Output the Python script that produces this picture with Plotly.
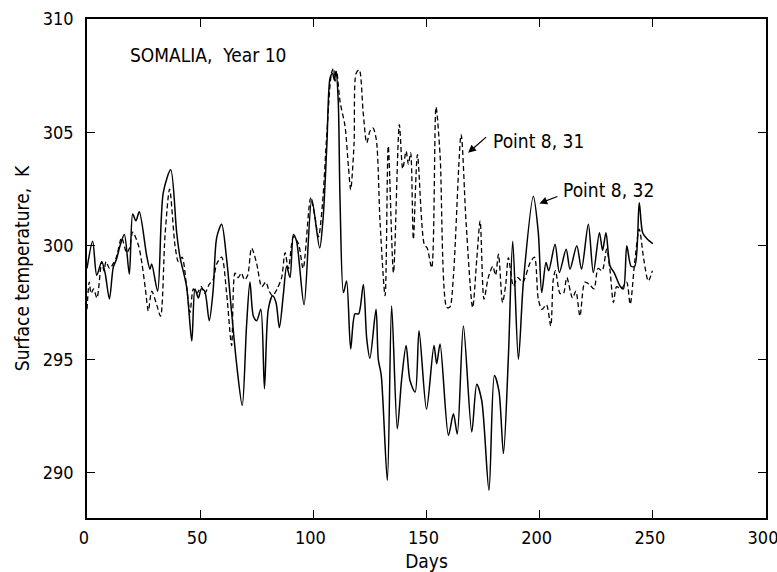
import plotly.graph_objects as go

# Point 8, 32 (solid)
days_32 = [0, 2.5, 4.3, 6.5, 8, 9.9, 11.6, 13, 14.6, 16.5, 18.7, 20.2, 21.6, 23.1, 26.4, 27.8, 28.6, 31.2,
           33.7, 37, 39.6, 41, 44, 46.3, 47.7, 49.2, 50.5, 52, 54, 55.7, 57.3, 59.5, 61.7, 63.9, 66.2, 68.6,
           70.5, 72, 73.5, 75, 76.8, 78.4, 80.1, 82, 83.5, 85, 86.8, 88.2, 89.7, 91.2, 92.6, 95.9, 99.3, 102.8,
           104.3, 106, 107.4, 108.5, 109.3, 110, 111, 111.8, 113.3, 114.7, 116.5, 118.4, 120, 122.1, 123.6,
           125, 127.7, 128.7, 130, 132.7, 134.6, 137.1, 139, 141, 142.7, 145, 146.7, 150, 153.3, 154.5, 156,
           159.7, 161.9, 163.6, 166.3, 170, 172.2, 174.4, 177.6, 180, 182, 184, 186.2, 188.1, 190.6, 192.8,
           197.2, 199.4, 200.9, 202.8, 204, 206.8, 208.7, 211.7, 213.4, 216.4, 218.5, 221.5, 223.7, 226.4,
           227.8, 229.3, 231.1, 233, 235.5, 237, 238.5, 240.4, 242, 244, 245.5, 247.5, 250]
temp_32 = [299.0, 300.2, 298.7, 299.3, 298.8, 297.65, 299.05, 299.4, 300.0, 300.5, 298.75, 301.4, 301.1, 301.5,
           299.55, 298.97, 299.2, 298.0, 302.35, 303.35, 300.6, 299.55, 298.2, 295.8, 298.1, 297.7, 298.1,
           298.0, 296.7, 298.0, 300.36, 300.95, 299.4, 297.06, 294.7, 292.96, 296.5, 298.4, 296.9, 296.7,
           297.2, 293.7, 297.2, 297.8, 297.5, 296.4, 297.9, 299.1, 298.6, 300.5, 300.2, 297.4, 302.05, 299.9,
           301.2, 304.5, 307.4, 307.6, 307.3, 307.7, 306.4, 302.0, 297.94, 298.45, 295.45, 297.0, 297.0,
           298.3, 295.9, 295.04, 297.2, 295.0, 294.3, 289.66, 297.35, 291.93, 294.1, 295.6, 294.06, 293.55,
           296.26, 292.8, 295.6, 294.8, 295.67, 291.64, 292.6, 291.7, 296.47, 291.79, 293.9, 293.18, 289.22,
           294.28, 293.6, 290.84, 295.16, 300.2, 295.0, 298.4, 302.19, 300.58, 297.94, 299.26, 298.9, 300.07,
           298.82, 299.85, 298.97, 300.0, 298.97, 300.95, 298.82, 300.58, 299.8, 300.58, 299.11, 298.8,
           298.23, 298.1, 300.0, 299.1, 299.1, 301.9, 300.58, 300.3, 300.1]

# Point 8, 31 (dashed)
days_31 = [0, 1, 1.8, 2.9, 4.4, 6.5, 7.5, 8.4, 10, 11.5, 13, 15.3, 17.5, 18.8, 20.2, 22.8, 24.3, 25.8, 27.1,
           28.6, 30.8, 32.5, 34.5, 36.5, 38.9, 40.4, 42, 44, 45.5, 47, 48.5, 50.5, 52, 54, 55.7, 57.3, 59.5,
           61.7, 63.9, 65.4, 66.8, 68.2, 69.6, 71, 72.7, 74.9, 77.2, 79, 80.5, 82, 84, 86, 87.5, 89, 91.2, 93.4,
           95.5, 98.8, 100.5, 102.3, 104, 106, 108, 108.9, 109.6, 110.3, 111.8, 114, 115.5, 116.5, 118, 118.9,
           120.3, 122, 123.6, 125, 126.3, 127.8, 129.5, 131.7, 133.1, 135.4, 138, 139.5, 141, 142, 143, 144.2,
           146, 149, 150.3, 152.3, 154.2, 156, 159, 160.3, 161.9, 165.3, 167.5, 170.4, 172.2, 173.7, 175.4,
           177.3, 179.3, 180.5, 181.8, 183.6, 185, 186.2, 188.4, 190.3, 192.5, 195.8, 197.7, 199.4, 201, 203,
           204.9, 206, 207, 209, 210.5, 212, 214.5, 216, 217.8, 220, 222, 224, 225.8, 227.6, 229.6, 231, 232.6,
           234, 236, 238.4, 240, 242, 244, 246, 248, 249.8]
temp_31 = [297.2, 298.4, 297.9, 298.1, 297.7, 299.3, 298.9, 299.3, 299.0, 299.2, 299.5, 300.36, 299.7, 299.9,
           300.6, 300.0, 299.2, 298.1, 297.13, 298.0, 297.4, 296.9, 300.5, 302.5, 300.0, 299.3, 299.5, 298.2,
           297.06, 298.1, 297.9, 298.2, 297.9, 298.3, 298.5, 299.2, 299.5, 297.9, 295.6, 298.8, 298.6, 298.8,
           298.5, 298.7, 299.9, 299.25, 298.2, 298.4, 298.0, 297.8, 298.1, 298.6, 299.7, 299.0, 300.4, 300.1,
           299.0, 302.1, 301.4, 300.4, 301.8, 305.0, 307.6, 307.83, 307.25, 307.7, 306.36, 305.27, 303.5,
           302.48, 304.5, 307.6, 307.76, 305.9, 304.54, 305.05, 305.2, 304.7, 301.0, 297.8, 304.4, 298.82,
           305.34, 303.4, 304.17, 303.6, 304.1, 300.29, 304.02, 300.07, 299.9, 299.04, 306.12, 304.0, 297.28,
           297.3, 298.67, 304.9, 301.0, 297.28, 299.4, 301.1, 297.65, 298.6, 299.1, 298.7, 299.63, 297.5, 298.3,
           299.48, 298.23, 298.6, 298.4, 299.26, 299.5, 297.65, 297.2, 297.4, 296.47, 298.5, 298.9, 297.9,
           297.9, 298.6, 297.7, 298.0, 296.9, 298.4, 298.3, 298.1, 299.0, 298.9, 299.85, 299.0, 297.5, 298.2,
           298.1, 298.4, 297.43, 299.3, 300.73, 299.4, 298.45, 298.9]

x_ticks = [0, 50, 100, 150, 200, 250, 300]
y_ticks = [290, 295, 300, 305, 310]

FONT = "Liberation Sans Narrow, DejaVu Sans Condensed, Liberation Sans, sans-serif"

fig = go.Figure()
fig.add_trace(go.Scatter(x=days_31, y=temp_31, mode="lines", name="Point 8, 31",
                         line=dict(color="black", width=1.3, dash="5px,3px", shape="spline", smoothing=0.8)))
fig.add_trace(go.Scatter(x=days_32, y=temp_32, mode="lines", name="Point 8, 32",
                         line=dict(color="black", width=1.5, shape="spline", smoothing=0.8)))

axis_common = dict(showline=True, linecolor="black", linewidth=1.5, mirror="ticks", ticks="inside",
                   ticklen=8, tickwidth=1.3, tickcolor="black", showgrid=False, zeroline=False,
                   ticklabeloverflow="allow",
                   tickfont=dict(family=FONT, size=18, color="black"))
fig.update_xaxes(range=[0, 300], tickvals=x_ticks, ticktext=[str(v) for v in x_ticks],
                 ticklabelstandoff=3, ticklabelshift=-3,
                 title=dict(text="Days", font=dict(family=FONT, size=19, color="black"), standoff=8),
                 **axis_common)
fig.update_yaxes(range=[288, 310], tickvals=y_ticks, ticktext=[str(v) for v in y_ticks],
                 ticklabelstandoff=8,
                 title=dict(text="Surface temperature,  K", font=dict(family=FONT, size=19, color="black"),
                            standoff=8),
                 **axis_common)

fig.add_annotation(x=18, y=308.4, text="SOMALIA,  Year 10", showarrow=False, xanchor="left",
                   font=dict(family=FONT, size=19, color="black"))
fig.add_annotation(x=178.5, y=304.6, text="Point 8, 31", showarrow=False, xanchor="left",
                   font=dict(family=FONT, size=19, color="black"))
fig.add_annotation(x=168.4, y=304.1, ax=177, ay=304.85, axref="x", ayref="y", text="", showarrow=True,
                   arrowhead=2, arrowsize=1.2, arrowwidth=1.3, arrowcolor="black")
fig.add_annotation(x=209.5, y=302.45, text="Point 8, 32", showarrow=False, xanchor="left",
                   font=dict(family=FONT, size=19, color="black"))
fig.add_annotation(x=199.9, y=301.87, ax=208.5, ay=302.2, axref="x", ayref="y", text="", showarrow=True,
                   arrowhead=2, arrowsize=1.2, arrowwidth=1.3, arrowcolor="black")

fig.update_layout(width=777, height=572, showlegend=False, plot_bgcolor="white", paper_bgcolor="white",
                  margin=dict(l=87, r=11, t=19, b=54, autoexpand=False))
# remove the default page margin so the figure fills the window exactly
fig.write_html("out.html", config={"displayModeBar": False},
               post_script="document.body.style.margin='0';document.body.style.overflow='hidden';")
